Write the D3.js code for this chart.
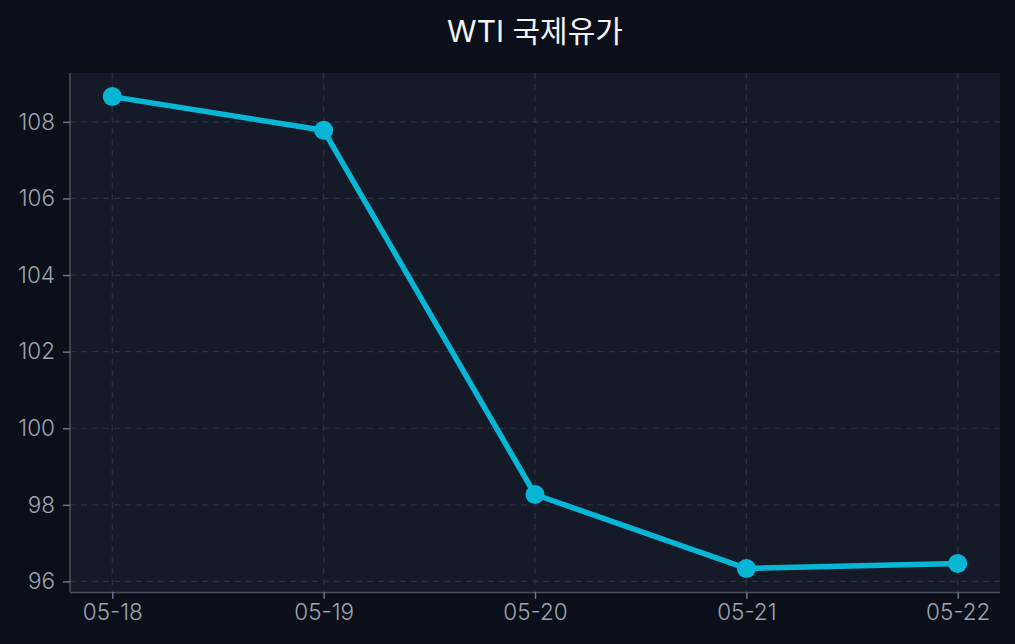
<!DOCTYPE html>
<html><head><meta charset="utf-8">
<script src="https://cdn.jsdelivr.net/npm/d3@7"></script>
<style>
html,body{margin:0;padding:0;background:#0b0f19;}
svg{display:block;}
</style></head>
<body>
<svg id="c" width="1015" height="644"></svg>
<script>
const title = "WTI 국제유가";
const categories = ["05-18","05-19","05-20","05-21","05-22"];
const values = [108.66, 107.78, 98.27, 96.34, 96.47];
const yTicks = [96, 98, 100, 102, 104, 106, 108];

const W = 1015, H = 644;
const m = {left:70, right:15, top:73, bottom:52};
const font = "Inter,'Noto Sans CJK KR',sans-serif";
const svg = d3.select("#c");
svg.append("rect").attr("width",W).attr("height",H).attr("fill","#0b0f19");

const pw = W - m.left - m.right, ph = H - m.top - m.bottom;
const g = svg.append("g").attr("transform",`translate(${m.left},${m.top})`);
g.append("rect").attr("width",pw).attr("height",ph).attr("fill","#151a29");

const xi = d3.scaleLinear().domain([-0.2, categories.length-1+0.2]).range([0,pw]);
const x = (c)=>xi(categories.indexOf(c));
const [mn,mx] = d3.extent(values); const pad=(mx-mn)*0.05;
const y = d3.scaleLinear().domain([mn-pad, mx+pad]).range([ph,0]);

// grid
g.append("g").selectAll("line").data(yTicks).join("line")
  .attr("x1",0).attr("x2",pw).attr("y1",d=>y(d)).attr("y2",d=>y(d))
  .attr("stroke","#2b3245").attr("stroke-width",1.2).attr("stroke-dasharray","6,5");
g.append("g").selectAll("line").data(categories).join("line")
  .attr("y1",0).attr("y2",ph).attr("x1",d=>x(d)).attr("x2",d=>x(d))
  .attr("stroke","#2b3245").attr("stroke-width",1.2).attr("stroke-dasharray","6,5");

// axes
const xAxis = d3.axisBottom(d3.scalePoint().domain(categories).range([xi(0),xi(categories.length-1)]))
  .tickSize(7).tickPadding(5);
const gx = g.append("g").attr("transform",`translate(0,${ph})`).call(xAxis);
gx.select(".domain").attr("d",`M0,0.5H${pw}`).attr("stroke","#4b5262").attr("stroke-width",1.5);
const yAxis = d3.axisLeft(y).tickValues(yTicks).tickSize(7).tickPadding(8);
const gy = g.append("g").call(yAxis);
gy.select(".domain").attr("d",`M0,0V${ph}`).attr("stroke","#4b5262").attr("stroke-width",1.5);
[gx,gy].forEach(a=>{
  a.selectAll(".tick line").attr("stroke","#6b7280").attr("stroke-width",1.5);
  a.selectAll(".tick text").attr("fill","#9ca3af").style("font-family",font).style("font-size","22.5px").style("font-weight",300);
});

// line
g.append("path").datum(categories)
  .attr("fill","none").attr("stroke","#06b6d4").attr("stroke-width",5.5)
  .attr("stroke-linejoin","round").attr("stroke-linecap","round")
  .attr("d",d3.line().x(d=>x(d)).y((d,i)=>y(values[i])));
g.append("g").selectAll("circle").data(categories).join("circle")
  .attr("cx",d=>x(d)).attr("cy",(d,i)=>y(values[i])).attr("r",9.5).attr("fill","#06b6d4");

svg.append("text").attr("x",m.left+pw/2).attr("y",42).attr("text-anchor","middle")
  .attr("fill","#f3f4f6").style("font-family",font).style("font-size","30px").style("font-weight",400).text(title);
</script>
</body></html>
